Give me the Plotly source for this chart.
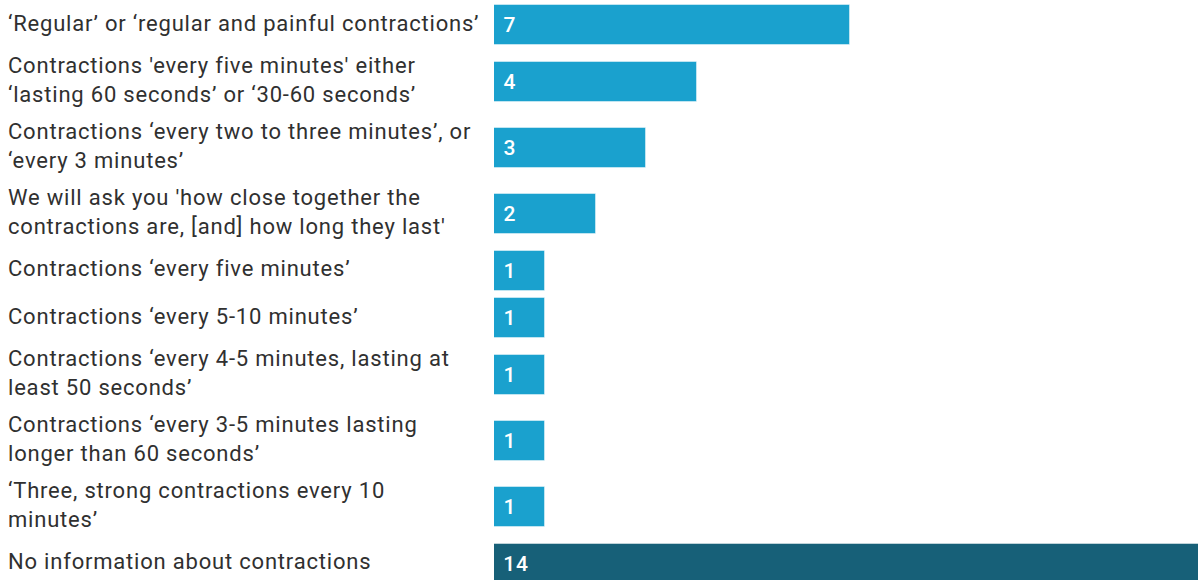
import plotly.graph_objects as go

labels = [
    "‘Regular’ or ‘regular and painful contractions’",
    "Contractions 'every five minutes' either<br>‘lasting 60 seconds’ or ‘30-60 seconds’",
    "Contractions ‘every two to three minutes’, or<br>‘every 3 minutes’",
    "We will ask you 'how close together the<br>contractions are, [and] how long they last'",
    "Contractions ‘every five minutes’",
    "Contractions ‘every 5-10 minutes’",
    "Contractions ‘every 4-5 minutes, lasting at<br>least 50 seconds’",
    "Contractions ‘every 3-5 minutes lasting<br>longer than 60 seconds’",
    "‘Three, strong contractions every 10<br>minutes’",
    "No information about contractions",
]
values = [7, 4, 3, 2, 1, 1, 1, 1, 1, 14]
colors = ["#1aa1ce"] * 9 + ["#176078"]

W, H = 1198, 580
LEFT = 494
ROW_1LINE, ROW_2LINE = 47.5, 66.0
TOP_OFFSET = 1.25
BAR_W = 40

# row centers derived from the number of label lines
centers = []
pos = TOP_OFFSET
for lab in labels:
    h = ROW_2LINE if "<br>" in lab else ROW_1LINE
    centers.append(pos + h / 2)
    pos += h

fig = go.Figure(go.Bar(
    x=values, y=centers, orientation="h", width=BAR_W,
    marker=dict(color=colors, line=dict(color="rgba(255,255,255,0.45)", width=1)),
    hoverinfo="skip",
))

annotations = []
plot_w = W - LEFT
for lab, c, v in zip(labels, centers, values):
    annotations.append(dict(
        x=(6 - LEFT) / plot_w, xref="paper", y=c - 2, yref="y",
        text=lab, showarrow=False, xanchor="left", yanchor="middle", align="left",
        font=dict(family="Roboto", size=22, color="#303030"),
    ))
    annotations.append(dict(
        x=0, xref="x", y=c, yref="y", xshift=8,
        text=str(v), showarrow=False, xanchor="left", yanchor="middle",
        font=dict(family="Roboto", size=21, color="white", weight=500),
    ))

fig.update_layout(
    width=W, height=H,
    margin=dict(l=LEFT, r=0, t=0, b=0),
    paper_bgcolor="white", plot_bgcolor="white",
    showlegend=False,
    xaxis=dict(range=[0, 13.85], visible=False, fixedrange=True),
    yaxis=dict(range=[H, 0], visible=False, fixedrange=True),
    annotations=annotations,
    bargap=0,
)

post = """
document.querySelectorAll('.annotation-text').forEach(function(e){
  e.style.letterSpacing = '0.8px';
});
"""

fig.write_html("out.html", post_script=post)
